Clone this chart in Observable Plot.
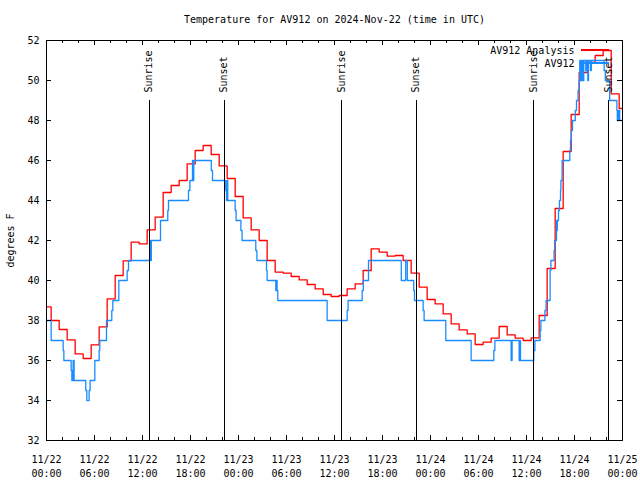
<!DOCTYPE html>
<html><head><meta charset="utf-8">
<script src="https://cdn.jsdelivr.net/npm/d3@7"></script>
<script src="https://cdn.jsdelivr.net/npm/@observablehq/plot@0.6"></script>
<style>
body{margin:0;background:#fff}
svg{display:block}
svg line, svg rect{shape-rendering:crispEdges}
</style>
</head><body><div id="chart"></div>
<script>
// ---------- data ----------
const titleText = "Temperature for AV912 on 2024-Nov-22 (time in UTC)";
const yLabel = "degrees F";
const seriesNames = ["AV912 Analysis", "AV912"];
const seriesColors = ["#ff0000", "#1a8cff"];

// Analysis: value at 00:00, then hourly values valid from HH:35 (hours 0..71)
const analysisFirst = 38.68;
const analysisValues = [38.0, 37.55, 37.03, 36.33, 36.1, 36.78, 37.68, 39.08, 40.25, 40.98, 41.92, 41.83,
  42.53, 43.17, 44.4, 44.75, 45.0, 45.83, 46.5, 46.75, 46.3, 45.73, 45.1, 44.2,
  43.13, 42.53, 42.0, 41.0, 40.42, 40.37, 40.2, 40.03, 39.8, 39.58, 39.3, 39.2,
  39.25, 39.58, 39.83, 40.5, 41.58, 41.42, 41.22, 41.25, 41.0, 40.37, 39.67, 39.05,
  38.83, 38.33, 37.83, 37.53, 37.33, 36.8, 36.92, 37.12, 37.7, 37.28, 37.12, 37.0,
  37.13, 38.25, 40.6, 43.6, 46.45, 48.3, 50.4, 50.9, 51.25, 51.5, 49.33, 48.6];

// Observations: hours since 11/22 00:00 UTC, and value (F)
const obsHours = [0, 0.58, 2.08, 2.17, 3.08, 3.17, 3.33, 3.45, 4.91, 5.04, 5.33, 5.45, 6.04, 6.58, 6.66,
  7.5, 8.16, 8.29, 9.04, 10.08, 10.25, 12.9, 13.0, 13.1, 14.25, 15.16, 15.25, 17.75, 17.92,
  18.25, 18.33, 18.41, 20.6, 20.75, 22.41, 22.5, 22.58, 22.66, 23.58, 23.7, 24.3, 24.45,
  26.16, 26.3, 27.5, 27.58, 28.66, 28.75, 28.83, 28.91, 35.08, 37.58, 37.7, 39.46, 39.6,
  40.25, 44.35, 44.9, 45.1, 45.9, 46.0, 47.08, 47.2, 49.91, 53.08, 55.91, 56.05, 58.08,
  58.2, 59.08, 59.15, 59.25, 60.91, 61.05, 61.7, 61.8, 62.3, 62.45, 62.95, 63.05, 63.45,
  63.52, 63.75, 63.8, 63.85, 64.0, 64.12, 64.25, 64.3, 64.45, 65.41, 65.5, 65.6, 65.75,
  66.1, 66.25, 66.45, 66.58, 66.66, 66.75, 66.83, 66.91, 67.0, 67.08, 67.16, 67.41, 67.5,
  67.66, 67.75, 68.0, 68.1, 69.7, 69.85, 70.4, 71.3, 71.35, 71.45, 71.5, 71.6, 71.65];
const obsValues = [38, 37, 36.5, 36, 35.5, 35, 36, 35, 34.5, 34, 34.5, 35, 36, 36.5, 37,
  38, 38.5, 39, 40, 40.5, 41, 42, 41, 42, 43, 43.5, 44, 44.5, 45,
  46, 45, 46, 45.5, 45, 44.5, 44, 45, 44, 43.5, 43, 42.5, 42,
  41.5, 41, 40.5, 40, 39.5, 40, 39.5, 39, 38, 38.5, 39, 39.5, 40,
  41, 40, 41, 40, 39.5, 39, 38.5, 38, 37, 36, 36.5, 37, 36,
  37, 36, 37, 36, 36.5, 37, 37.5, 38, 38.5, 39, 40.5, 41, 41.5,
  42, 43, 42.5, 43, 43.5, 44, 44.5, 45, 46, 46.5, 47, 47.5, 48,
  48.5, 49, 49.5, 50, 51, 50, 51, 50, 51, 50, 51, 50.5, 51,
  50, 51, 50.5, 51, 50.5, 50, 49, 48.5, 48, 48.5, 48, 48.5, 48];

const sunLabels = ["Sunrise", "Sunset", "Sunrise", "Sunset", "Sunrise", "Sunset"];
const sunTimes = ["2024-11-22T12:50Z", "2024-11-22T22:12Z", "2024-11-23T12:51Z",
  "2024-11-23T22:12Z", "2024-11-24T12:52Z", "2024-11-24T22:15Z"];
const sunLineTop = 49;
const sunLabelY = 49.4;

const xTickHours = [0, 6, 12, 18, 24, 30, 36, 42, 48, 54, 60, 66, 72];
const xTickLabels = ["11/22\n00:00", "11/22\n06:00", "11/22\n12:00", "11/22\n18:00",
  "11/23\n00:00", "11/23\n06:00", "11/23\n12:00", "11/23\n18:00",
  "11/24\n00:00", "11/24\n06:00", "11/24\n12:00", "11/24\n18:00", "11/25\n00:00"];
const xMinorHours = [2, 4, 8, 10, 14, 16, 20, 22, 26, 28, 32, 34, 38, 40, 44, 46, 50, 52, 56, 58, 62, 64, 68, 70];
const yTicks = [32, 34, 36, 38, 40, 42, 44, 46, 48, 50, 52];

// ---------- build ----------
const T0 = Date.UTC(2024, 10, 22);
const at = h => new Date(T0 + h * 3600e3);
const W = 640, H = 480, ML = 46, MR = 18, MT = 40, MB = 40;
const FW = W - ML - MR, FH = H - MT - MB;

const analysis = [{t: at(0), v: analysisFirst},
  ...analysisValues.map((v, i) => ({t: at(i + 35 / 60), v})),
  {t: at(72), v: analysisValues[analysisValues.length - 1]}];
const obs = obsHours.map((h, i) => ({t: at(h), v: obsValues[i]}));
obs.push({t: at(72), v: obsValues[obsValues.length - 1]});

const xMajor = xTickHours.map(at);
const xMinor = xMinorHours.map(at);
const sun = sunTimes.map((s, i) => ({t: new Date(s), label: sunLabels[i]}));

const plot = Plot.plot({
  width: W, height: H,
  marginLeft: ML, marginRight: MR, marginTop: MT, marginBottom: MB,
  style: {fontFamily: "DejaVu Sans Mono", fontSize: "10px", color: "black", background: "white"},
  x: {type: "utc", domain: [at(0), at(72)], axis: null},
  y: {domain: [32, 52], axis: null},
  marks: [
    Plot.line(analysis, {x: "t", y: "v", curve: "step-after", stroke: seriesColors[0], strokeWidth: 1.3}),
    Plot.line(obs, {x: "t", y: "v", curve: "step-after", stroke: seriesColors[1], strokeWidth: 1.3}),
    Plot.ruleX(sun, {x: "t", y1: 32, y2: sunLineTop, stroke: "black", strokeWidth: 1}),
    Plot.text(sun, {x: "t", y: sunLabelY, text: "label", rotate: -90, textAnchor: "start", fill: "black"}),
    Plot.tickX(xMinor, {insetTop: FH - 3, stroke: "black"}),
    Plot.tickX(xMinor, {insetBottom: FH - 3, stroke: "black"}),
    Plot.tickX(xMajor, {insetTop: FH - 5, stroke: "black"}),
    Plot.tickX(xMajor, {insetBottom: FH - 5, stroke: "black"}),
    Plot.tickY(yTicks, {insetRight: FW - 5, stroke: "black"}),
    Plot.tickY(yTicks, {insetLeft: FW - 5, stroke: "black"}),
    Plot.text(xMajor, {x: d => d, text: (d, i) => xTickLabels[i], frameAnchor: "bottom", lineAnchor: "top", dy: 12, lineHeight: 1.45, fill: "black"}),
    Plot.text(yTicks, {y: d => d, text: d => String(d), frameAnchor: "left", textAnchor: "end", dx: -7, fill: "black"}),
    Plot.text([titleText], {frameAnchor: "top", lineAnchor: "middle", dy: -21, fill: "black"}),
    Plot.text([yLabel], {frameAnchor: "left", textAnchor: "middle", lineAnchor: "middle", dx: -36, rotate: -90, fill: "black"}),
    Plot.text([seriesNames[0]], {frameAnchor: "top-right", textAnchor: "end", lineAnchor: "middle", dx: -48, dy: 10, fill: "black"}),
    Plot.text([seriesNames[1]], {frameAnchor: "top-right", textAnchor: "end", lineAnchor: "middle", dx: -48, dy: 23, fill: "black"}),
    Plot.frame({stroke: "black", strokeWidth: 1})
  ]
});
document.getElementById("chart").appendChild(plot);

// legend line samples
const svg = d3.select(plot);
const right = W - MR;
[[0, 10], [1, 23]].forEach(([i, dy]) => {
  svg.append("line")
    .attr("x1", right - 41).attr("x2", right - 13)
    .attr("y1", MT + dy).attr("y2", MT + dy)
    .attr("stroke", seriesColors[i]).attr("stroke-width", 1.3);
});
</script>
</body></html>
